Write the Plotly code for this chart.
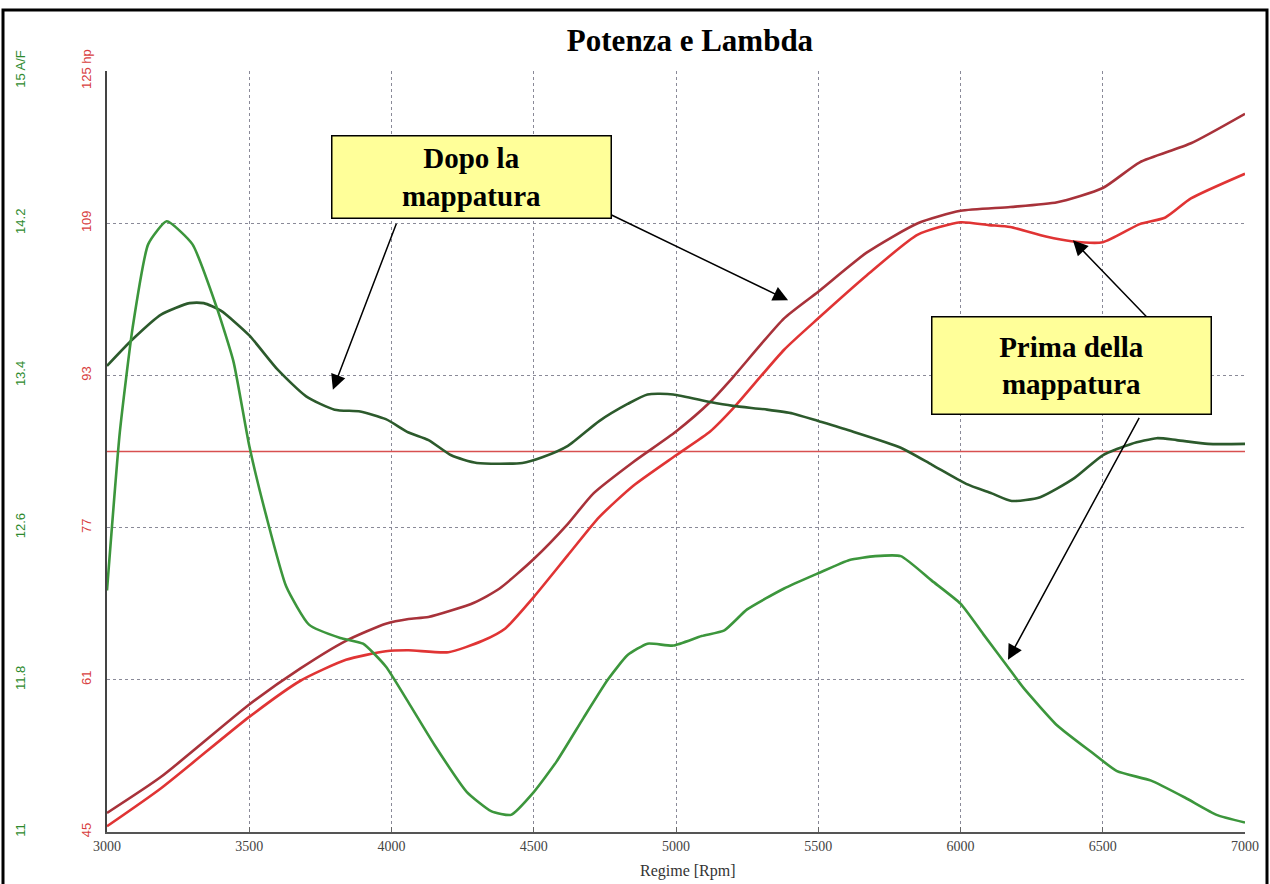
import plotly.graph_objects as go

# ---- data ----
rpm_dopo_af = [3000, 3090, 3190, 3290, 3340, 3400, 3500, 3600, 3700, 3800, 3890, 3980, 4060, 4130,
               4210, 4300, 4460, 4530, 4620, 4730, 4830, 4900, 4990, 5120, 5200, 5320, 5410, 5500,
               5610, 5790, 5900, 6020, 6110, 6180, 6280, 6400, 6500, 6600, 6690, 6760, 6870, 7000]
af_dopo = [13.45, 13.59, 13.72, 13.78, 13.78, 13.74, 13.61, 13.43, 13.29, 13.22, 13.21, 13.17, 13.10, 13.06,
           12.98, 12.94, 12.94, 12.97, 13.03, 13.16, 13.25, 13.30, 13.30, 13.26, 13.24, 13.22, 13.20, 13.16,
           13.11, 13.02, 12.93, 12.83, 12.78, 12.74, 12.76, 12.86, 12.98, 13.04, 13.07, 13.06, 13.04, 13.04]

rpm_prima_af = [3000, 3045, 3090, 3145, 3210, 3300, 3385, 3445, 3500, 3560, 3630, 3710, 3820, 3900,
                3980, 4060, 4150, 4265, 4350, 4420, 4500, 4580, 4675, 4760, 4830, 4900, 4990, 5090,
                5170, 5250, 5380, 5500, 5610, 5700, 5790, 5900, 6000, 6080, 6175, 6220, 6340, 6460,
                6550, 6670, 6790, 6900, 7000]
af_prima = [12.27, 13.10, 13.65, 14.09, 14.21, 14.09, 13.76, 13.47, 13.03, 12.66, 12.29, 12.09, 12.02, 11.99,
            11.87, 11.68, 11.46, 11.21, 11.11, 11.09, 11.21, 11.37, 11.60, 11.80, 11.93, 11.99, 11.98, 12.03,
            12.06, 12.17, 12.28, 12.36, 12.43, 12.45, 12.45, 12.32, 12.20, 12.04, 11.85, 11.76, 11.56, 11.42,
            11.32, 11.27, 11.18, 11.09, 11.05]

rpm_dopo_hp = [3000, 3190, 3500, 3680, 3840, 3980, 4060, 4130, 4290, 4380, 4500, 4620, 4710, 4850,
               5000, 5120, 5200, 5380, 5500, 5670, 5850, 6000, 6175, 6340, 6500, 6630, 6810, 7000]
hp_dopo = [47.0, 50.8, 58.4, 62.2, 65.1, 66.9, 67.4, 67.6, 69.1, 70.6, 73.7, 77.4, 80.6, 83.9,
           87.1, 90.2, 92.8, 99.0, 101.8, 105.9, 109.0, 110.3, 110.7, 111.2, 112.7, 115.4, 117.4, 120.5]

rpm_prima_hp = [3000, 3190, 3500, 3680, 3840, 3980, 4060, 4200, 4320, 4400, 4500, 4620, 4730, 4850,
                5000, 5120, 5200, 5380, 5500, 5670, 5850, 6000, 6100, 6175, 6300, 6390, 6500, 6630,
                6720, 6810, 7000]
hp_prima = [45.6, 49.6, 57.1, 60.9, 63.1, 64.0, 64.1, 63.9, 65.1, 66.4, 69.7, 74.1, 78.1, 81.4,
            84.6, 87.1, 89.5, 95.7, 99.0, 103.5, 107.8, 109.1, 108.8, 108.6, 107.6, 107.1, 107.0, 108.9,
            109.6, 111.6, 114.2]

ref_rpm = [3000, 7000]
ref_hp = [85, 85]

x_ticks = [3000, 3500, 4000, 4500, 5000, 5500, 6000, 6500, 7000]
hp_ticks = [45, 61, 77, 93, 109, 125]
hp_ticktext = ["45", "61", "77", "93", "109", "125 hp"]
af_ticks = [11, 11.8, 12.6, 13.4, 14.2, 15]
af_ticktext = ["11", "11.8", "12.6", "13.4", "14.2", "15 A/F"]

# ---- figure ----
fig = go.Figure()
fig.add_trace(go.Scatter(x=ref_rpm, y=ref_hp, mode="lines",
                         line=dict(color="#d85050", width=1.5), yaxis="y", hoverinfo="skip"))
fig.add_trace(go.Scatter(x=rpm_dopo_hp, y=hp_dopo, mode="lines", name="Potenza dopo",
                         line=dict(color="#a8323a", width=2.6, shape="spline", smoothing=0.6), yaxis="y"))
fig.add_trace(go.Scatter(x=rpm_prima_hp, y=hp_prima, mode="lines", name="Potenza prima",
                         line=dict(color="#e03434", width=2.6, shape="spline", smoothing=0.6), yaxis="y"))
fig.add_trace(go.Scatter(x=rpm_dopo_af, y=af_dopo, mode="lines", name="Lambda dopo",
                         line=dict(color="#2c5a2c", width=2.6, shape="spline", smoothing=0.6), yaxis="y2"))
fig.add_trace(go.Scatter(x=rpm_prima_af, y=af_prima, mode="lines", name="Lambda prima",
                         line=dict(color="#3c963c", width=2.6, shape="spline", smoothing=0.5), yaxis="y2"))

grid = dict(showgrid=True, gridcolor="#8a8a98", griddash="dot", gridwidth=1.2)

PAPER_W = 1245.0  # width between margins (l=0, r=25)

fig.update_layout(
    width=1270, height=884,
    margin=dict(l=0, r=25, t=71, b=52, autoexpand=False),
    paper_bgcolor="white", plot_bgcolor="white",
    showlegend=False,
    title=dict(text="<b>Potenza e Lambda</b>", x=690 / PAPER_W, xref="paper", xanchor="center",
               y=0.955, yanchor="middle",
               font=dict(family="Liberation Serif", size=31, color="black")),
    xaxis=dict(domain=[107 / PAPER_W, 1], range=[3000, 7000], tickvals=x_ticks,
               ticks="inside", ticklen=5, tickcolor="#666", automargin=False,
               showline=True, linecolor="#555", linewidth=2, mirror=False,
               tickfont=dict(family="Liberation Serif", size=14, color="#444"),
               zeroline=False, **grid),
    yaxis=dict(range=[45, 125], tickvals=hp_ticks, ticktext=hp_ticktext, tickangle=-90,
               side="left", anchor="x", showline=True, linecolor="#444", linewidth=2,
               ticks="", ticklabelstandoff=9, automargin=False,
               tickfont=dict(family="Liberation Sans", size=13, color="#d84040"),
               zeroline=False, **grid),
    yaxis2=dict(range=[11, 15], tickvals=af_ticks, ticktext=af_ticktext, tickangle=-90,
                overlaying="y", anchor="free", position=28 / PAPER_W, side="left",
                showline=False, showgrid=False, ticks="", zeroline=False, automargin=False,
                tickfont=dict(family="Liberation Sans", size=13, color="#2e8a2e")),
)

# outer black frame
fig.add_shape(type="rect", xref="paper", yref="paper",
              x0=3 / PAPER_W, x1=1267 / PAPER_W,
              y0=-(884 - 832) / 761 - 0.01, y1=1 + (71 - 10) / 761,
              line=dict(color="black", width=3), fillcolor="rgba(0,0,0,0)")

fig.add_annotation(text="Regime [Rpm]", xref="paper", yref="paper",
                   x=688 / PAPER_W, y=-(871 - 832) / 761, showarrow=False,
                   yanchor="middle",
                   font=dict(family="Liberation Serif", size=16, color="#333"))

arrow_style = dict(showarrow=True, arrowhead=2, arrowsize=2, arrowwidth=1.5,
                   arrowcolor="black", text="", xref="x", yref="y", axref="x", ayref="y")
fig.add_annotation(x=3794, y=91.5, ax=4019, ay=109.1, **arrow_style)
fig.add_annotation(x=5394, y=100.9, ax=4750, ay=110.2, **arrow_style)
fig.add_annotation(x=6395, y=107.2, ax=6659, ay=99.0, **arrow_style)
fig.add_annotation(x=6167, y=63.1, ax=6631, ay=88.7, **arrow_style)

fig.add_annotation(text="<b>Dopo la<br>mappatura</b>", x=4281, y=113.9, xref="x", yref="y",
                   showarrow=False, width=278, height=81, bgcolor="#ffff99",
                   bordercolor="black", borderwidth=1.5, borderpad=0,
                   font=dict(family="Liberation Serif", size=29, color="black"))
fig.add_annotation(text="<b>Prima della<br>mappatura</b>", x=6389, y=94.0, xref="x", yref="y",
                   showarrow=False, width=278, height=96, bgcolor="#ffff99",
                   bordercolor="black", borderwidth=1.5, borderpad=0,
                   font=dict(family="Liberation Serif", size=29, color="black"))

fig.write_html("out.html", config={"displayModeBar": False},
               post_script="document.body.style.margin='0';")
